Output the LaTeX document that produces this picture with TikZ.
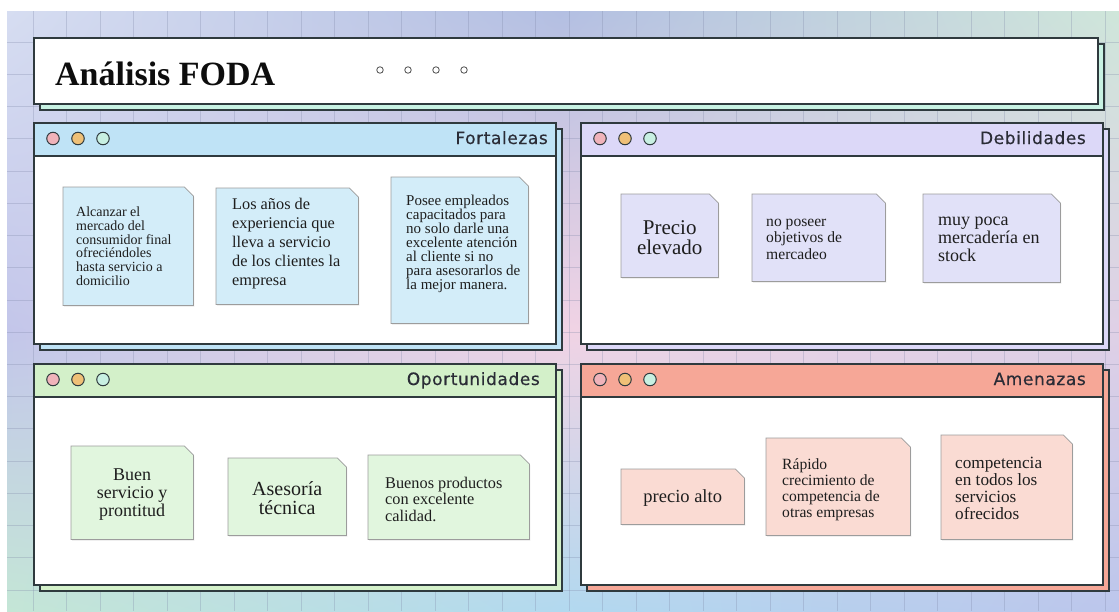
\documentclass[tikz,border=0pt]{standalone}
\usepackage{fontspec}
\setmainfont{Liberation Serif}
\newfontfamily\headfont{DejaVu Sans}[LetterSpace=3.5, FakeBold=0.4]
\usetikzlibrary{shadows, shadings, positioning}

\definecolor{framecol}{HTML}{2F3A3E}
\definecolor{gridcol}{HTML}{7F88A8}
\definecolor{titleshadow}{HTML}{C8F2E3}
\definecolor{fortHead}{HTML}{BFE3F6}
\definecolor{debHead}{HTML}{DCD8F8}
\definecolor{opoHead}{HTML}{D3F0C9}
\definecolor{ameHead}{HTML}{F6A797}
\definecolor{fortNote}{HTML}{D3EDF9}
\definecolor{debNote}{HTML}{E1E1F8}
\definecolor{opoNote}{HTML}{E1F6DE}
\definecolor{ameNote}{HTML}{FADBD3}
\definecolor{btnA}{HTML}{F0B3BA}
\definecolor{btnB}{HTML}{EFC077}
\definecolor{btnC}{HTML}{C8F0E2}
\definecolor{notegray}{HTML}{9C9C9C}
\definecolor{notetext}{HTML}{1E1E1E}
\definecolor{headtext}{HTML}{2A2C36}
\definecolor{bgTL}{HTML}{D6DDF1}
\definecolor{bgTM}{HTML}{B3BFE2}
\definecolor{bgTR}{HTML}{CFE6DA}
\definecolor{bgML}{HTML}{C3C6EA}
\definecolor{bgMM}{HTML}{F1D3E4}
\definecolor{bgMR}{HTML}{DFD0E6}
\definecolor{bgBL}{HTML}{C4E6D6}
\definecolor{bgBM}{HTML}{B2D9EF}
\definecolor{bgBR}{HTML}{BCC6EC}

\tikzset{
  panelline/.style={draw=framecol, line width=1.5pt},
  gridline/.style={draw=gridcol, line width=0.9pt, opacity=0.3},
  panel body/.style={panelline, fill=white, rectangle, inner sep=0pt,
    minimum width=522pt, minimum height=221pt, anchor=north west},
  panel head/.style={panelline, rectangle, inner sep=0pt,
    minimum width=522pt, minimum height=33pt, anchor=north west},
  head label/.style={font=\headfont\fontsize{17}{19}\selectfont, text=headtext,
    inner sep=0pt, anchor=base east},
  winbtn/.style={circle, draw=framecol, line width=1pt, minimum size=12.5pt, inner sep=0pt},
  ring/.style={circle, draw=black!70, line width=0.8pt, minimum size=6.5pt, inner sep=0pt},
  title text/.style={font=\bfseries\fontsize{34}{38}\selectfont, text=black!95, inner sep=0pt},
  notecard/.style={rectangle, inner sep=0pt, anchor=north west},
  cardline/.style={draw=notegray, line width=0.7pt,
    drop shadow={shadow xshift=1pt, shadow yshift=-1.5pt, opacity=0.12}},
  cardsize/.style n args={2}{minimum width=#1pt, minimum height=#2pt},
  cardtext/.style={inner sep=0pt, text=notetext},
}

\begin{document}
\begin{tikzpicture}[x=1pt, y=-1pt]
  \useasboundingbox (0,0) rectangle (1119,611);
  \fill[white] (0,0) rectangle (1119,611);

  % background
  \shade[upper left=bgTL, upper right=bgTM, lower left=bgML, lower right=bgMM] (7,11) rectangle (560,330);
  \shade[upper left=bgTM, upper right=bgTR, lower left=bgMM, lower right=bgMR] (560,11) rectangle (1119,330);
  \shade[upper left=bgML, upper right=bgMM, lower left=bgBL, lower right=bgBM] (7,330) rectangle (560,611);
  \shade[upper left=bgMM, upper right=bgMR, lower left=bgBM, lower right=bgBR] (560,330) rectangle (1119,611);
  \foreach \k in {0,...,32}
    \draw[gridline] (33+33.5*\k,11) -- (33+33.5*\k,611);
  \foreach \k in {1,...,18}
    \draw[gridline] (7,9.8+32.24*\k) -- (1119,9.8+32.24*\k);

  % title bar
  \draw[panelline, fill=titleshadow] (40,44) rectangle (1104,110);
  \node[panelline, fill=white, inner sep=0pt, minimum width=1064pt, minimum height=66pt,
    anchor=north west] (title) at (33,37) {};
  \node[title text, anchor=base west] (title-text) at (55,85) {Análisis FODA};
  \foreach \x [count=\k] in {380,408,436,464}
    \node[ring] (ring-\k) at (\x,70) {};

  % the four windows
  \foreach \px/\py/\hc/\lx/\lbl/\id in {33/122/fortHead/515/Fortalezas/F,
      580/122/debHead/506/Debilidades/D,
      33/363/opoHead/507/Oportunidades/O,
      580/363/ameHead/506/Amenazas/A} {
    \draw[panelline, fill=\hc] (\px+7,\py+7) rectangle ++(522,221);
    \node[panel body] (body-\id) at (\px,\py) {};
    \node[panel head, fill=\hc] (head-\id) at (\px,\py) {};
    \node[head label] (label-\id) at (\px+\lx,\py+22) {\lbl};
    \foreach \c [count=\k] in {btnA,btnB,btnC}
      \node[winbtn, fill=\c] (btn-\id-\k) at (\px-5+25*\k,\py+16.5) {};
  }

  % note cards
  \node[notecard, cardsize={130}{118}] (f-1) at (63,187) {};
  \node[notecard, cardsize={142}{116}] (f-2) at (216,188) {};
  \node[notecard, cardsize={137}{146}] (f-3) at (391,177) {};
  \node[notecard, cardsize={97}{83}]   (d-1) at (621,194) {};
  \node[notecard, cardsize={133}{87}]  (d-2) at (752,194) {};
  \node[notecard, cardsize={137}{88}]  (d-3) at (923,194) {};
  \node[notecard, cardsize={122}{93}]  (o-1) at (71,446) {};
  \node[notecard, cardsize={118}{77}]  (o-2) at (228,458) {};
  \node[notecard, cardsize={161}{84}]  (o-3) at (368,455) {};
  \node[notecard, cardsize={123}{55}]  (a-1) at (621,469) {};
  \node[notecard, cardsize={144}{97}]  (a-2) at (766,438) {};
  \node[notecard, cardsize={131}{104}] (a-3) at (941,435) {};

  % cut corner outline
  \foreach \n/\c in {f-1/fortNote, f-2/fortNote, f-3/fortNote,
      d-1/debNote, d-2/debNote, d-3/debNote,
      o-1/opoNote, o-2/opoNote, o-3/opoNote,
      a-1/ameNote, a-2/ameNote, a-3/ameNote}
    \draw[cardline, fill=\c] (\n.south west) |- ([xshift=-9pt]\n.north east)
      -- ([yshift=-9pt]\n.north east) |- (\n.south west) -- cycle;

  % Fortalezas
  \node[cardtext, align=left, anchor=west, font=\fontsize{14}{13.8}\selectfont]
    (f-1-text) at ([xshift=13pt]f-1.west)
    {Alcanzar el\\mercado del\\consumidor final\\ofreciéndoles\\hasta servicio a\\domicilio};
  \node[cardtext, align=left, anchor=west, font=\fontsize{16.3}{19}\selectfont]
    (f-2-text) at ([xshift=16pt, yshift=3pt]f-2.west)
    {Los años de\\experiencia que\\lleva a servicio\\de los clientes la\\empresa};
  \node[cardtext, align=left, anchor=west, font=\fontsize{15}{14}\selectfont]
    (f-3-text) at ([xshift=15pt, yshift=6pt]f-3.west)
    {Posee empleados\\capacitados para\\no solo darle una\\excelente atención\\al cliente si no\\para asesorarlos de\\la mejor manera.};

  % Debilidades
  \node[cardtext, align=center, font=\fontsize{21}{20.8}\selectfont]
    (d-1-text) at ([yshift=-2pt]d-1.center) {Precio\\elevado};
  \node[cardtext, align=left, anchor=west, font=\fontsize{15.6}{16.7}\selectfont]
    (d-2-text) at ([xshift=14pt, yshift=-1.5pt]d-2.west) {no poseer\\objetivos de\\mercadeo};
  \node[cardtext, align=left, anchor=west, font=\fontsize{18}{18}\selectfont]
    (d-3-text) at ([xshift=15pt, yshift=-1pt]d-3.west) {muy poca\\mercadería en\\stock};

  % Oportunidades
  \node[cardtext, align=center, font=\fontsize{18}{18.3}\selectfont]
    (o-1-text) at ([yshift=-2pt]o-1.center) {Buen\\servicio y\\prontitud};
  \node[cardtext, align=center, font=\fontsize{20}{19.5}\selectfont]
    (o-2-text) at ([yshift=-1.5pt]o-2.center) {Asesoría\\técnica};
  \node[cardtext, align=left, anchor=west, font=\fontsize{16.3}{16.7}\selectfont]
    (o-3-text) at ([xshift=17pt, yshift=-2pt]o-3.west) {Buenos productos\\con excelente\\calidad.};

  % Amenazas
  \node[cardtext, font=\fontsize{18.5}{19}\selectfont]
    (a-1-text) at ([yshift=-1.5pt]a-1.center) {precio alto};
  \node[cardtext, align=left, anchor=west, font=\fontsize{15.6}{15.7}\selectfont]
    (a-2-text) at ([xshift=16pt, yshift=-3pt]a-2.west)
    {Rápido\\crecimiento de\\competencia de\\otras empresas};
  \node[cardtext, align=left, anchor=west, font=\fontsize{17.2}{17}\selectfont]
    (a-3-text) at ([xshift=14pt, yshift=-1.5pt]a-3.west)
    {competencia\\en todos los\\servicios\\ofrecidos};
\end{tikzpicture}
\end{document}
